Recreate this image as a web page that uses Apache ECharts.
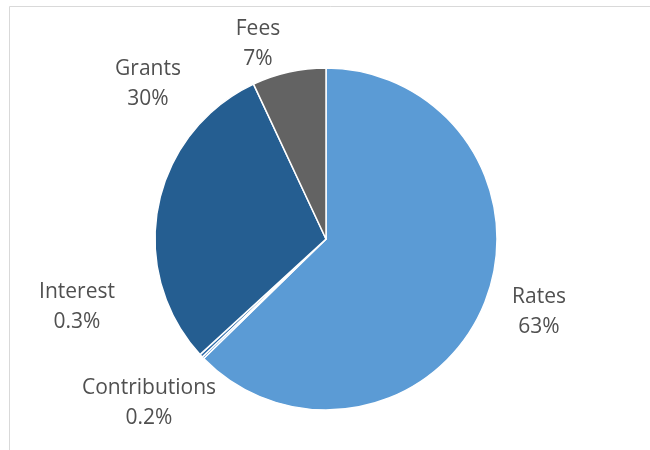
<!DOCTYPE html>
<html>
<head>
<meta charset="utf-8">
<script src="https://cdn.jsdelivr.net/npm/echarts@6/dist/echarts.min.js"></script>
<style>html,body{margin:0;padding:0;background:#fff;}#chart{width:650px;height:450px;}</style>
</head>
<body>
<div id="chart"></div>
<script>
var categories = ['Rates', 'Contributions', 'Interest', 'Grants', 'Fees'];
var values = [63, 0.2, 0.3, 30, 7];
var labelText = ['63%', '0.2%', '0.3%', '30%', '7%'];
var colors = ['#5B9BD5', '#3F7FC4', '#2C6AA8', '#255E91', '#636363'];
var labelPos = [[539, 312], [149, 403], [77, 307], [148, 84], [258, 44]];

var chart = echarts.init(document.getElementById('chart'));
chart.setOption({
  backgroundColor: '#ffffff',
  animation: false,
  graphic: [{
    type: 'rect',
    shape: { x: 9.5, y: 6.5, width: 800, height: 600 },
    style: { fill: 'none', stroke: '#d9d9d9', lineWidth: 1 }
  }],
  series: [{
    type: 'pie',
    center: [326, 239],
    radius: [0, 171],
    startAngle: 90,
    clockwise: true,
    avoidLabelOverlap: false,
    itemStyle: { borderColor: '#ffffff', borderWidth: 1.5 },
    label: {
      show: true,
      position: 'outside',
      fontFamily: 'Open Sans',
      fontSize: 21,
      color: '#505050',
      lineHeight: 30,
      align: 'center',
      formatter: function (p) { return p.name + '\n' + labelText[p.dataIndex]; }
    },
    labelLine: { show: false },
    labelLayout: function (p) {
      var pos = labelPos[p.dataIndex];
      return { x: pos[0], y: pos[1], align: 'center', verticalAlign: 'middle' };
    },
    data: categories.map(function (c, i) {
      return { name: c, value: values[i], itemStyle: { color: colors[i] } };
    })
  }]
});
</script>
</body>
</html>
